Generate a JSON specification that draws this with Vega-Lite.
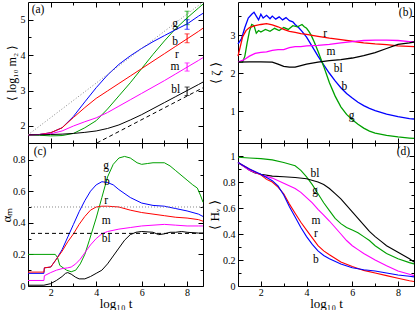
{
"$schema": "https://vega.github.io/schema/vega-lite/v6.json",
"padding": {"left": 0, "top": 0, "right": 0, "bottom": 0},
"background": "white",
"config": {
 "font": "Liberation Serif",
 "view": {"stroke": null},
 "axis": {"labelFont": "Liberation Serif", "titleFont": "Liberation Serif", "labelFontSize": 10, "titleFontSize": 13, "titleFontWeight": "normal", "labelFlush": false, "labelOverlap": false, "domainColor": "black", "tickColor": "black", "labelColor": "black", "titleColor": "black", "grid": false, "tickWidth": 1, "domainWidth": 1},
 "text": {"font": "Liberation Serif", "fontSize": 11.5, "color": "black"}
},
"datasets": {
 "a": [
  {"s":"g","x":1,"y":1.75},{"s":"g","x":1.5,"y":1.74},{"s":"g","x":2,"y":1.72},{"s":"g","x":2.5,"y":1.73},{"s":"g","x":3,"y":1.79},{"s":"g","x":3.5,"y":1.95},{"s":"g","x":4,"y":2.15},{"s":"g","x":4.5,"y":2.48},{"s":"g","x":5,"y":2.85},{"s":"g","x":5.5,"y":3.22},{"s":"g","x":6,"y":3.62},{"s":"g","x":6.5,"y":4.02},{"s":"g","x":7,"y":4.4},{"s":"g","x":7.5,"y":4.75},{"s":"g","x":8,"y":5.05},{"s":"g","x":8.5,"y":5.33},{"s":"g","x":8.7,"y":5.44},
  {"s":"b","x":1,"y":1.75},{"s":"b","x":1.5,"y":1.76},{"s":"b","x":2,"y":1.81},{"s":"b","x":2.5,"y":1.95},{"s":"b","x":3,"y":2.27},{"s":"b","x":3.5,"y":2.68},{"s":"b","x":4,"y":3.08},{"s":"b","x":4.5,"y":3.44},{"s":"b","x":5,"y":3.74},{"s":"b","x":5.5,"y":3.98},{"s":"b","x":6,"y":4.19},{"s":"b","x":6.5,"y":4.38},{"s":"b","x":7,"y":4.55},{"s":"b","x":7.5,"y":4.72},{"s":"b","x":8,"y":4.88},{"s":"b","x":8.5,"y":5.1},{"s":"b","x":8.7,"y":5.18},
  {"s":"r","x":1,"y":1.75},{"s":"r","x":1.5,"y":1.76},{"s":"r","x":2,"y":1.81},{"s":"r","x":2.5,"y":1.95},{"s":"r","x":3,"y":2.24},{"s":"r","x":3.5,"y":2.52},{"s":"r","x":4,"y":2.78},{"s":"r","x":4.5,"y":2.99},{"s":"r","x":5,"y":3.2},{"s":"r","x":5.5,"y":3.41},{"s":"r","x":6,"y":3.62},{"s":"r","x":6.5,"y":3.83},{"s":"r","x":7,"y":4.04},{"s":"r","x":7.5,"y":4.25},{"s":"r","x":8,"y":4.46},{"s":"r","x":8.5,"y":4.67},{"s":"r","x":8.7,"y":4.76},
  {"s":"m","x":1,"y":1.75},{"s":"m","x":1.5,"y":1.76},{"s":"m","x":2,"y":1.78},{"s":"m","x":2.5,"y":1.86},{"s":"m","x":3,"y":2.0},{"s":"m","x":3.5,"y":2.12},{"s":"m","x":4,"y":2.23},{"s":"m","x":4.5,"y":2.38},{"s":"m","x":5,"y":2.56},{"s":"m","x":5.5,"y":2.74},{"s":"m","x":6,"y":2.92},{"s":"m","x":6.5,"y":3.1},{"s":"m","x":7,"y":3.28},{"s":"m","x":7.5,"y":3.47},{"s":"m","x":8,"y":3.66},{"s":"m","x":8.5,"y":3.85},{"s":"m","x":8.7,"y":3.93},
  {"s":"bl","x":1,"y":1.75},{"s":"bl","x":1.5,"y":1.75},{"s":"bl","x":2,"y":1.76},{"s":"bl","x":2.5,"y":1.77},{"s":"bl","x":3,"y":1.79},{"s":"bl","x":3.5,"y":1.82},{"s":"bl","x":4,"y":1.86},{"s":"bl","x":4.5,"y":1.93},{"s":"bl","x":5,"y":2.03},{"s":"bl","x":5.5,"y":2.17},{"s":"bl","x":6,"y":2.32},{"s":"bl","x":6.5,"y":2.49},{"s":"bl","x":7,"y":2.66},{"s":"bl","x":7.5,"y":2.83},{"s":"bl","x":8,"y":3.0},{"s":"bl","x":8.5,"y":3.17},{"s":"bl","x":8.7,"y":3.24}
 ],
 "ra": [
  {"k":"dot","x":1,"y":1.75},{"k":"dot","x":8.7,"y":5.5},
  {"k":"dash","x":4.03,"y":1.52},{"k":"dash","x":8.7,"y":3.08}
 ],
 "ea": [
  {"s":"g","x":8,"lo":4.86,"hi":5.24},{"s":"b","x":8,"lo":4.73,"hi":5.0},{"s":"r","x":8,"lo":4.35,"hi":4.6},{"s":"m","x":8,"lo":3.55,"hi":3.78},{"s":"bl","x":8,"lo":2.86,"hi":3.1}
 ],
 "la": [
  {"t":"g","x":7.47,"y":4.88},{"t":"b","x":7.47,"y":4.36},{"t":"r","x":7.55,"y":3.99},{"t":"m","x":7.47,"y":3.66},{"t":"bl","x":7.5,"y":3.03},{"t":"(a)","x":1.44,"y":5.28}
 ],
 "b": [
  {"s":"b","x":1,"y":2.77},{"s":"b","x":1.15,"y":2.9},{"s":"b","x":1.3,"y":3.2},{"s":"b","x":1.45,"y":3.45},{"s":"b","x":1.6,"y":3.55},{"s":"b","x":1.7,"y":3.6},{"s":"b","x":1.8,"y":3.5},{"s":"b","x":1.9,"y":3.4},{"s":"b","x":2.0,"y":3.55},{"s":"b","x":2.1,"y":3.45},{"s":"b","x":2.25,"y":3.52},{"s":"b","x":2.4,"y":3.43},{"s":"b","x":2.5,"y":3.5},{"s":"b","x":2.65,"y":3.42},{"s":"b","x":2.8,"y":3.48},{"s":"b","x":2.95,"y":3.4},{"s":"b","x":3.1,"y":3.46},{"s":"b","x":3.25,"y":3.38},{"s":"b","x":3.4,"y":3.35},{"s":"b","x":3.5,"y":3.28},{"s":"b","x":3.65,"y":3.2},{"s":"b","x":3.8,"y":3.1},{"s":"b","x":4,"y":2.95},{"s":"b","x":4.25,"y":2.7},{"s":"b","x":4.5,"y":2.45},{"s":"b","x":4.75,"y":2.22},{"s":"b","x":5,"y":2.0},{"s":"b","x":5.25,"y":1.8},{"s":"b","x":5.5,"y":1.62},{"s":"b","x":5.75,"y":1.47},{"s":"b","x":6,"y":1.35},{"s":"b","x":6.25,"y":1.24},{"s":"b","x":6.5,"y":1.15},{"s":"b","x":6.75,"y":1.08},{"s":"b","x":7,"y":1.02},{"s":"b","x":7.5,"y":0.93},{"s":"b","x":8,"y":0.86},{"s":"b","x":8.5,"y":0.81},{"s":"b","x":8.7,"y":0.8},
  {"s":"g","x":1,"y":2.29},{"s":"g","x":1.2,"y":2.29},{"s":"g","x":1.3,"y":2.45},{"s":"g","x":1.4,"y":2.8},{"s":"g","x":1.5,"y":3.1},{"s":"g","x":1.6,"y":3.28},{"s":"g","x":1.7,"y":3.25},{"s":"g","x":1.8,"y":3.05},{"s":"g","x":1.9,"y":3.12},{"s":"g","x":2.0,"y":3.08},{"s":"g","x":2.2,"y":3.15},{"s":"g","x":2.4,"y":3.1},{"s":"g","x":2.6,"y":3.18},{"s":"g","x":2.8,"y":3.12},{"s":"g","x":3.0,"y":3.2},{"s":"g","x":3.2,"y":3.15},{"s":"g","x":3.4,"y":3.25},{"s":"g","x":3.6,"y":3.22},{"s":"g","x":3.8,"y":3.28},{"s":"g","x":3.9,"y":3.22},{"s":"g","x":4.0,"y":3.18},{"s":"g","x":4.1,"y":3.1},{"s":"g","x":4.2,"y":3.0},{"s":"g","x":4.35,"y":2.8},{"s":"g","x":4.5,"y":2.58},{"s":"g","x":4.75,"y":2.18},{"s":"g","x":5,"y":1.75},{"s":"g","x":5.25,"y":1.4},{"s":"g","x":5.5,"y":1.12},{"s":"g","x":5.75,"y":0.92},{"s":"g","x":6,"y":0.78},{"s":"g","x":6.25,"y":0.66},{"s":"g","x":6.5,"y":0.56},{"s":"g","x":6.75,"y":0.48},{"s":"g","x":7,"y":0.43},{"s":"g","x":7.5,"y":0.37},{"s":"g","x":8,"y":0.33},{"s":"g","x":8.5,"y":0.3},{"s":"g","x":8.7,"y":0.29},
  {"s":"r","x":1,"y":2.45},{"s":"r","x":1.1,"y":2.7},{"s":"r","x":1.2,"y":2.95},{"s":"r","x":1.35,"y":3.12},{"s":"r","x":1.5,"y":3.2},{"s":"r","x":1.75,"y":3.25},{"s":"r","x":2,"y":3.28},{"s":"r","x":2.25,"y":3.3},{"s":"r","x":2.5,"y":3.27},{"s":"r","x":2.75,"y":3.22},{"s":"r","x":3,"y":3.15},{"s":"r","x":3.25,"y":3.1},{"s":"r","x":3.5,"y":3.07},{"s":"r","x":3.75,"y":3.04},{"s":"r","x":4,"y":3.02},{"s":"r","x":4.5,"y":2.97},{"s":"r","x":5,"y":2.92},{"s":"r","x":5.5,"y":2.88},{"s":"r","x":6,"y":2.84},{"s":"r","x":6.5,"y":2.8},{"s":"r","x":7,"y":2.77},{"s":"r","x":7.5,"y":2.75},{"s":"r","x":8,"y":2.72},{"s":"r","x":8.7,"y":2.7},
  {"s":"m","x":1,"y":2.29},{"s":"m","x":1.25,"y":2.35},{"s":"m","x":1.5,"y":2.45},{"s":"m","x":1.75,"y":2.52},{"s":"m","x":2,"y":2.55},{"s":"m","x":2.25,"y":2.56},{"s":"m","x":2.5,"y":2.6},{"s":"m","x":2.75,"y":2.62},{"s":"m","x":3,"y":2.62},{"s":"m","x":3.25,"y":2.67},{"s":"m","x":3.5,"y":2.7},{"s":"m","x":3.75,"y":2.7},{"s":"m","x":4,"y":2.72},{"s":"m","x":4.5,"y":2.73},{"s":"m","x":5,"y":2.76},{"s":"m","x":5.5,"y":2.8},{"s":"m","x":6,"y":2.83},{"s":"m","x":6.5,"y":2.86},{"s":"m","x":7,"y":2.87},{"s":"m","x":7.5,"y":2.87},{"s":"m","x":8,"y":2.86},{"s":"m","x":8.5,"y":2.83},{"s":"m","x":8.7,"y":2.82},
  {"s":"bl","x":1,"y":2.29},{"s":"bl","x":1.5,"y":2.3},{"s":"bl","x":2,"y":2.3},{"s":"bl","x":2.5,"y":2.29},{"s":"bl","x":2.75,"y":2.24},{"s":"bl","x":3,"y":2.18},{"s":"bl","x":3.25,"y":2.16},{"s":"bl","x":3.5,"y":2.16},{"s":"bl","x":3.75,"y":2.2},{"s":"bl","x":4,"y":2.24},{"s":"bl","x":4.5,"y":2.29},{"s":"bl","x":5,"y":2.33},{"s":"bl","x":5.5,"y":2.36},{"s":"bl","x":6,"y":2.4},{"s":"bl","x":6.5,"y":2.46},{"s":"bl","x":7,"y":2.54},{"s":"bl","x":7.5,"y":2.65},{"s":"bl","x":8,"y":2.76},{"s":"bl","x":8.5,"y":2.8},{"s":"bl","x":8.7,"y":2.82}
 ],
 "lb": [
  {"t":"r","x":4.81,"y":3.02},{"t":"m","x":5.07,"y":2.57},{"t":"bl","x":5.39,"y":2.11},{"t":"b","x":5.65,"y":1.65},{"t":"g","x":5.97,"y":0.87},{"t":"(b)","x":8.33,"y":3.59}
 ],
 "c": [
  {"s":"g","x":1,"y":0.2},{"s":"g","x":2.2,"y":0.2},{"s":"g","x":2.3,"y":0.18},{"s":"g","x":2.4,"y":0.13},{"s":"g","x":2.55,"y":0.115},{"s":"g","x":2.7,"y":0.1},{"s":"g","x":2.9,"y":0.09},{"s":"g","x":3.1,"y":0.1},{"s":"g","x":3.3,"y":0.14},{"s":"g","x":3.5,"y":0.2},{"s":"g","x":3.7,"y":0.29},{"s":"g","x":4,"y":0.43},{"s":"g","x":4.25,"y":0.56},{"s":"g","x":4.5,"y":0.69},{"s":"g","x":4.75,"y":0.77},{"s":"g","x":5,"y":0.81},{"s":"g","x":5.25,"y":0.82},{"s":"g","x":5.5,"y":0.81},{"s":"g","x":5.8,"y":0.78},{"s":"g","x":6,"y":0.77},{"s":"g","x":6.25,"y":0.775},{"s":"g","x":6.5,"y":0.78},{"s":"g","x":7,"y":0.78},{"s":"g","x":7.25,"y":0.76},{"s":"g","x":7.5,"y":0.73},{"s":"g","x":8,"y":0.67},{"s":"g","x":8.25,"y":0.64},{"s":"g","x":8.45,"y":0.62},{"s":"g","x":8.6,"y":0.57},{"s":"g","x":8.7,"y":0.53},
  {"s":"b","x":1,"y":0.08},{"s":"b","x":1.7,"y":0.08},{"s":"b","x":1.72,"y":0.115},{"s":"b","x":2,"y":0.12},{"s":"b","x":2.25,"y":0.17},{"s":"b","x":2.5,"y":0.23},{"s":"b","x":2.75,"y":0.31},{"s":"b","x":3,"y":0.39},{"s":"b","x":3.25,"y":0.47},{"s":"b","x":3.5,"y":0.54},{"s":"b","x":3.75,"y":0.6},{"s":"b","x":4,"y":0.64},{"s":"b","x":4.25,"y":0.66},{"s":"b","x":4.5,"y":0.655},{"s":"b","x":4.75,"y":0.64},{"s":"b","x":5,"y":0.61},{"s":"b","x":5.5,"y":0.56},{"s":"b","x":6,"y":0.525},{"s":"b","x":6.5,"y":0.51},{"s":"b","x":7,"y":0.505},{"s":"b","x":7.5,"y":0.49},{"s":"b","x":8,"y":0.475},{"s":"b","x":8.5,"y":0.455},{"s":"b","x":8.7,"y":0.44},
  {"s":"r","x":1,"y":0.088},{"s":"r","x":1.7,"y":0.088},{"s":"r","x":1.72,"y":0.115},{"s":"r","x":2,"y":0.12},{"s":"r","x":2.25,"y":0.17},{"s":"r","x":2.5,"y":0.22},{"s":"r","x":2.75,"y":0.28},{"s":"r","x":3,"y":0.33},{"s":"r","x":3.25,"y":0.39},{"s":"r","x":3.5,"y":0.44},{"s":"r","x":3.75,"y":0.48},{"s":"r","x":4,"y":0.5},{"s":"r","x":4.25,"y":0.505},{"s":"r","x":4.5,"y":0.505},{"s":"r","x":5,"y":0.5},{"s":"r","x":5.5,"y":0.48},{"s":"r","x":6,"y":0.465},{"s":"r","x":6.5,"y":0.455},{"s":"r","x":7,"y":0.445},{"s":"r","x":7.5,"y":0.435},{"s":"r","x":8,"y":0.43},{"s":"r","x":8.5,"y":0.42},{"s":"r","x":8.7,"y":0.41},
  {"s":"m","x":1,"y":0.035},{"s":"m","x":1.7,"y":0.035},{"s":"m","x":1.72,"y":0.065},{"s":"m","x":2,"y":0.085},{"s":"m","x":2.25,"y":0.1},{"s":"m","x":2.5,"y":0.11},{"s":"m","x":2.75,"y":0.115},{"s":"m","x":2.9,"y":0.12},{"s":"m","x":3.1,"y":0.14},{"s":"m","x":3.3,"y":0.17},{"s":"m","x":3.5,"y":0.21},{"s":"m","x":3.75,"y":0.26},{"s":"m","x":4,"y":0.3},{"s":"m","x":4.25,"y":0.33},{"s":"m","x":4.5,"y":0.345},{"s":"m","x":5,"y":0.36},{"s":"m","x":5.5,"y":0.37},{"s":"m","x":6,"y":0.38},{"s":"m","x":6.5,"y":0.385},{"s":"m","x":7,"y":0.39},{"s":"m","x":7.5,"y":0.385},{"s":"m","x":8,"y":0.38},{"s":"m","x":8.5,"y":0.38},{"s":"m","x":8.7,"y":0.38},
  {"s":"bl","x":1,"y":0.005},{"s":"bl","x":1.7,"y":0.005},{"s":"bl","x":2,"y":0.015},{"s":"bl","x":2.25,"y":0.035},{"s":"bl","x":2.5,"y":0.06},{"s":"bl","x":2.65,"y":0.08},{"s":"bl","x":2.75,"y":0.085},{"s":"bl","x":2.9,"y":0.075},{"s":"bl","x":3.1,"y":0.055},{"s":"bl","x":3.25,"y":0.045},{"s":"bl","x":3.5,"y":0.045},{"s":"bl","x":3.75,"y":0.06},{"s":"bl","x":4,"y":0.08},{"s":"bl","x":4.25,"y":0.1},{"s":"bl","x":4.5,"y":0.14},{"s":"bl","x":4.75,"y":0.19},{"s":"bl","x":5,"y":0.24},{"s":"bl","x":5.25,"y":0.29},{"s":"bl","x":5.5,"y":0.325},{"s":"bl","x":5.75,"y":0.34},{"s":"bl","x":6,"y":0.345},{"s":"bl","x":6.5,"y":0.34},{"s":"bl","x":6.75,"y":0.325},{"s":"bl","x":7,"y":0.33},{"s":"bl","x":7.25,"y":0.34},{"s":"bl","x":7.5,"y":0.34},{"s":"bl","x":7.75,"y":0.345},{"s":"bl","x":8,"y":0.34},{"s":"bl","x":8.5,"y":0.335},{"s":"bl","x":8.7,"y":0.335}
 ],
 "rc": [{"k":"dot","y":0.5},{"k":"dash","y":0.333}],
 "lc": [
  {"t":"g","x":4.44,"y":0.757},{"t":"b","x":4.47,"y":0.66},{"t":"r","x":4.44,"y":0.54},{"t":"m","x":4.44,"y":0.41},{"t":"bl","x":4.44,"y":0.3},{"t":"(c)","x":1.53,"y":0.848}
 ],
 "d": [
  {"s":"g","x":1,"y":0.99},{"s":"g","x":1.5,"y":0.985},{"s":"g","x":2,"y":0.98},{"s":"g","x":2.5,"y":0.97},{"s":"g","x":3,"y":0.95},{"s":"g","x":3.5,"y":0.925},{"s":"g","x":3.75,"y":0.89},{"s":"g","x":4,"y":0.84},{"s":"g","x":4.25,"y":0.78},{"s":"g","x":4.5,"y":0.71},{"s":"g","x":4.75,"y":0.64},{"s":"g","x":5,"y":0.58},{"s":"g","x":5.25,"y":0.52},{"s":"g","x":5.5,"y":0.48},{"s":"g","x":5.75,"y":0.45},{"s":"g","x":6,"y":0.43},{"s":"g","x":6.25,"y":0.41},{"s":"g","x":6.5,"y":0.38},{"s":"g","x":6.75,"y":0.35},{"s":"g","x":7,"y":0.31},{"s":"g","x":7.5,"y":0.25},{"s":"g","x":8,"y":0.21},{"s":"g","x":8.5,"y":0.18},{"s":"g","x":8.7,"y":0.17},
  {"s":"bl","x":1,"y":0.95},{"s":"bl","x":1.25,"y":0.92},{"s":"bl","x":1.5,"y":0.89},{"s":"bl","x":1.75,"y":0.87},{"s":"bl","x":2,"y":0.86},{"s":"bl","x":2.5,"y":0.845},{"s":"bl","x":3,"y":0.84},{"s":"bl","x":3.5,"y":0.835},{"s":"bl","x":4,"y":0.825},{"s":"bl","x":4.5,"y":0.8},{"s":"bl","x":4.75,"y":0.78},{"s":"bl","x":5,"y":0.75},{"s":"bl","x":5.25,"y":0.71},{"s":"bl","x":5.5,"y":0.67},{"s":"bl","x":5.75,"y":0.62},{"s":"bl","x":6,"y":0.57},{"s":"bl","x":6.25,"y":0.52},{"s":"bl","x":6.5,"y":0.47},{"s":"bl","x":6.75,"y":0.42},{"s":"bl","x":7,"y":0.38},{"s":"bl","x":7.25,"y":0.345},{"s":"bl","x":7.5,"y":0.31},{"s":"bl","x":8,"y":0.26},{"s":"bl","x":8.5,"y":0.21},{"s":"bl","x":8.7,"y":0.185},
  {"s":"m","x":1,"y":0.95},{"s":"m","x":1.5,"y":0.89},{"s":"m","x":2,"y":0.855},{"s":"m","x":2.5,"y":0.83},{"s":"m","x":3,"y":0.79},{"s":"m","x":3.5,"y":0.75},{"s":"m","x":3.75,"y":0.72},{"s":"m","x":4,"y":0.68},{"s":"m","x":4.25,"y":0.64},{"s":"m","x":4.5,"y":0.59},{"s":"m","x":4.75,"y":0.545},{"s":"m","x":5,"y":0.5},{"s":"m","x":5.25,"y":0.45},{"s":"m","x":5.5,"y":0.4},{"s":"m","x":5.75,"y":0.35},{"s":"m","x":6,"y":0.31},{"s":"m","x":6.25,"y":0.28},{"s":"m","x":6.5,"y":0.25},{"s":"m","x":7,"y":0.2},{"s":"m","x":7.5,"y":0.155},{"s":"m","x":8,"y":0.115},{"s":"m","x":8.5,"y":0.09},{"s":"m","x":8.7,"y":0.08},
  {"s":"r","x":1,"y":0.95},{"s":"r","x":1.5,"y":0.9},{"s":"r","x":2,"y":0.855},{"s":"r","x":2.25,"y":0.82},{"s":"r","x":2.5,"y":0.8},{"s":"r","x":2.75,"y":0.76},{"s":"r","x":3,"y":0.71},{"s":"r","x":3.25,"y":0.63},{"s":"r","x":3.5,"y":0.56},{"s":"r","x":3.75,"y":0.49},{"s":"r","x":4,"y":0.43},{"s":"r","x":4.25,"y":0.37},{"s":"r","x":4.5,"y":0.31},{"s":"r","x":4.75,"y":0.27},{"s":"r","x":5,"y":0.24},{"s":"r","x":5.5,"y":0.185},{"s":"r","x":6,"y":0.15},{"s":"r","x":6.5,"y":0.12},{"s":"r","x":7,"y":0.1},{"s":"r","x":7.5,"y":0.08},{"s":"r","x":8,"y":0.06},{"s":"r","x":8.5,"y":0.04},{"s":"r","x":8.7,"y":0.035},
  {"s":"b","x":1,"y":0.95},{"s":"b","x":1.5,"y":0.9},{"s":"b","x":2,"y":0.86},{"s":"b","x":2.5,"y":0.81},{"s":"b","x":2.75,"y":0.77},{"s":"b","x":3,"y":0.7},{"s":"b","x":3.25,"y":0.61},{"s":"b","x":3.5,"y":0.53},{"s":"b","x":3.75,"y":0.45},{"s":"b","x":4,"y":0.38},{"s":"b","x":4.25,"y":0.32},{"s":"b","x":4.5,"y":0.27},{"s":"b","x":4.75,"y":0.235},{"s":"b","x":5,"y":0.21},{"s":"b","x":5.5,"y":0.17},{"s":"b","x":6,"y":0.14},{"s":"b","x":6.5,"y":0.125},{"s":"b","x":7,"y":0.115},{"s":"b","x":7.5,"y":0.1},{"s":"b","x":8,"y":0.085},{"s":"b","x":8.5,"y":0.075},{"s":"b","x":8.7,"y":0.07}
 ],
 "ld": [
  {"t":"bl","x":4.37,"y":0.86},{"t":"g","x":4.37,"y":0.73},{"t":"m","x":4.41,"y":0.5},{"t":"r","x":4.41,"y":0.4},{"t":"b","x":4.41,"y":0.2},{"t":"(d)","x":8.24,"y":1.03}
 ]
},
"bounds": "flush",
"columns": 2,
"spacing": {"row": 0, "column": 35},
"concat": [
 {
  "width": 175, "height": 141,
  "resolve": {"axis": {"x": "independent", "y": "independent"}},
  "layer": [
   {"data": {"name": "a"}, "mark": {"type": "line", "strokeWidth": 1},
    "encoding": {
     "x": {"field": "x", "type": "quantitative", "scale": {"domain": [1, 8.7], "nice": false, "zero": false},
      "axis": {"orient": "bottom", "values": [2,3,4,5,6,7,8], "labels": false, "ticks": false, "tickSize": 0, "title": null}},
     "y": {"field": "y", "type": "quantitative", "scale": {"domain": [1.52, 5.5], "nice": false, "zero": false},
      "axis": {"orient": "left", "values": [2,3,4,5], "format": "d", "ticks": false, "tickSize": 0, "labelPadding": 3, "title": "⟨ log₁₀ m₂ ⟩", "titleFontSize": 12, "titlePadding": 2}},
     "color": {"field": "s", "type": "nominal", "scale": {"domain": ["g","b","r","m","bl"], "range": ["#00a000","#0000ff","#ff0000","#ff00ff","#000000"]}, "legend": null}
    }},
   {"data": {"name": "a"}, "mark": {"type": "point", "opacity": 0},
    "encoding": {
     "x": {"field": "x", "type": "quantitative", "axis": {"orient": "top", "values": [2,3,4,5,6,7,8], "labels": false, "title": null, "tickSize": {"condition": {"test": "datum.value % 2 === 0", "value": -5}, "value": -3}}},
     "y": {"field": "y", "type": "quantitative", "axis": {"orient": "right", "values": [2,2.5,3,3.5,4,4.5,5], "labels": false, "title": null, "tickSize": {"condition": {"test": "datum.value % 1 === 0", "value": -5}, "value": -3}}}
    }},
   {"data": {"name": "a"}, "mark": {"type": "point", "opacity": 0},
    "encoding": {
     "x": {"field": "x", "type": "quantitative", "axis": {"orient": "bottom", "domain": false, "values": [2,3,4,5,6,7,8], "labels": false, "title": null, "tickSize": {"condition": {"test": "datum.value % 2 === 0", "value": -5}, "value": -3}}},
     "y": {"field": "y", "type": "quantitative", "axis": {"orient": "left", "domain": false, "values": [2,2.5,3,3.5,4,4.5,5], "labels": false, "title": null, "tickSize": {"condition": {"test": "datum.value % 1 === 0", "value": -5}, "value": -3}}}
    }},
   {"data": {"name": "ra"}, "transform": [{"filter": "datum.k === 'dot'"}], "mark": {"type": "line", "color": "#888888", "strokeWidth": 1, "strokeDash": [1, 2]},
    "encoding": {"x": {"field": "x", "type": "quantitative", "axis": null}, "y": {"field": "y", "type": "quantitative", "axis": null}}},
   {"data": {"name": "ra"}, "transform": [{"filter": "datum.k === 'dash'"}], "mark": {"type": "line", "color": "black", "strokeWidth": 1, "strokeDash": [4, 3]},
    "encoding": {"x": {"field": "x", "type": "quantitative", "axis": null}, "y": {"field": "y", "type": "quantitative", "axis": null}}},
   {"data": {"name": "ea"}, "mark": {"type": "errorbar", "ticks": {"size": 5}},
    "encoding": {"x": {"field": "x", "type": "quantitative", "axis": null}, "y": {"field": "lo", "type": "quantitative", "axis": null}, "y2": {"field": "hi"}, "color": {"field": "s", "type": "nominal", "legend": null}}},
   {"data": {"name": "la"}, "mark": {"type": "text", "align": "center", "baseline": "middle"},
    "encoding": {"x": {"field": "x", "type": "quantitative", "axis": null}, "y": {"field": "y", "type": "quantitative", "axis": null}, "text": {"field": "t"}}}
  ]
 },
 {
  "width": 176, "height": 141,
  "resolve": {"axis": {"x": "independent", "y": "independent"}},
  "layer": [
   {"data": {"name": "b"}, "mark": {"type": "line", "strokeWidth": 1.3},
    "encoding": {
     "x": {"field": "x", "type": "quantitative", "scale": {"domain": [1, 8.7], "nice": false, "zero": false},
      "axis": {"orient": "bottom", "values": [2,3,4,5,6,7,8], "labels": false, "ticks": false, "tickSize": 0, "title": null}},
     "y": {"field": "y", "type": "quantitative", "scale": {"domain": [0.17, 3.87], "nice": false, "zero": false},
      "axis": {"orient": "left", "values": [1,2,3], "format": "d", "ticks": false, "tickSize": 0, "labelPadding": 3, "title": "⟨ ζ ⟩", "titlePadding": 8}},
     "color": {"field": "s", "type": "nominal", "scale": {"domain": ["g","b","r","m","bl"], "range": ["#00a000","#0000ff","#ff0000","#ff00ff","#000000"]}, "legend": null}
    }},
   {"data": {"name": "b"}, "mark": {"type": "point", "opacity": 0},
    "encoding": {
     "x": {"field": "x", "type": "quantitative", "axis": {"orient": "top", "values": [2,3,4,5,6,7,8], "labels": false, "title": null, "tickSize": {"condition": {"test": "datum.value % 2 === 0", "value": -5}, "value": -3}}},
     "y": {"field": "y", "type": "quantitative", "axis": {"orient": "right", "values": [0.5,1,1.5,2,2.5,3,3.5], "labels": false, "title": null, "tickSize": {"condition": {"test": "datum.value % 1 === 0", "value": -5}, "value": -3}}}
    }},
   {"data": {"name": "b"}, "mark": {"type": "point", "opacity": 0},
    "encoding": {
     "x": {"field": "x", "type": "quantitative", "axis": {"orient": "bottom", "domain": false, "values": [2,3,4,5,6,7,8], "labels": false, "title": null, "tickSize": {"condition": {"test": "datum.value % 2 === 0", "value": -5}, "value": -3}}},
     "y": {"field": "y", "type": "quantitative", "axis": {"orient": "left", "domain": false, "values": [0.5,1,1.5,2,2.5,3,3.5], "labels": false, "title": null, "tickSize": {"condition": {"test": "datum.value % 1 === 0", "value": -5}, "value": -3}}}
    }},
   {"data": {"name": "lb"}, "mark": {"type": "text", "align": "center", "baseline": "middle"},
    "encoding": {"x": {"field": "x", "type": "quantitative", "axis": null}, "y": {"field": "y", "type": "quantitative", "axis": null}, "text": {"field": "t"}}}
  ]
 },
 {
  "width": 175, "height": 143,
  "resolve": {"axis": {"x": "independent", "y": "independent"}},
  "layer": [
   {"data": {"name": "c"}, "mark": {"type": "line", "strokeWidth": 1},
    "encoding": {
     "x": {"field": "x", "type": "quantitative", "scale": {"domain": [1, 8.7], "nice": false, "zero": false},
      "axis": {"orient": "bottom", "values": [2,4,6,8], "ticks": false, "tickSize": 0, "labelPadding": 1, "title": "log₁₀ t", "titlePadding": 0}},
     "y": {"field": "y", "type": "quantitative", "scale": {"domain": [0, 0.905], "nice": false, "zero": false},
      "axis": {"orient": "left", "values": [0,0.2,0.4,0.6,0.8], "labelExpr": "format(datum.value, '~g')", "ticks": false, "tickSize": 0, "labelPadding": 3, "title": "αₘ", "titlePadding": -1}},
     "color": {"field": "s", "type": "nominal", "scale": {"domain": ["g","b","r","m","bl"], "range": ["#00a000","#0000ff","#ff0000","#ff00ff","#000000"]}, "legend": null}
    }},
   {"data": {"name": "c"}, "mark": {"type": "point", "opacity": 0},
    "encoding": {
     "x": {"field": "x", "type": "quantitative", "axis": {"orient": "top", "values": [2,3,4,5,6,7,8], "labels": false, "title": null, "tickSize": {"condition": {"test": "datum.value % 2 === 0", "value": -5}, "value": -3}}},
     "y": {"field": "y", "type": "quantitative", "axis": {"orient": "right", "values": [0,0.1,0.2,0.3,0.4,0.5,0.6,0.7,0.8], "labels": false, "title": null, "tickSize": {"condition": {"test": "abs(datum.value*5 - round(datum.value*5)) < 0.000001", "value": -5}, "value": -3}}}
    }},
   {"data": {"name": "c"}, "mark": {"type": "point", "opacity": 0},
    "encoding": {
     "x": {"field": "x", "type": "quantitative", "axis": {"orient": "bottom", "domain": false, "values": [2,3,4,5,6,7,8], "labels": false, "title": null, "tickSize": {"condition": {"test": "datum.value % 2 === 0", "value": -5}, "value": -3}}},
     "y": {"field": "y", "type": "quantitative", "axis": {"orient": "left", "domain": false, "values": [0,0.1,0.2,0.3,0.4,0.5,0.6,0.7,0.8], "labels": false, "title": null, "tickSize": {"condition": {"test": "abs(datum.value*5 - round(datum.value*5)) < 0.000001", "value": -5}, "value": -3}}}
    }},
   {"data": {"name": "rc"}, "transform": [{"filter": "datum.k === 'dot'"}], "mark": {"type": "rule", "color": "#888888", "strokeWidth": 1, "strokeDash": [1, 2]},
    "encoding": {"y": {"field": "y", "type": "quantitative", "axis": null}}},
   {"data": {"name": "rc"}, "transform": [{"filter": "datum.k === 'dash'"}], "mark": {"type": "rule", "color": "black", "strokeWidth": 1, "strokeDash": [4, 3]},
    "encoding": {"y": {"field": "y", "type": "quantitative", "axis": null}}},
   {"data": {"name": "lc"}, "mark": {"type": "text", "align": "center", "baseline": "middle"},
    "encoding": {"x": {"field": "x", "type": "quantitative", "axis": null}, "y": {"field": "y", "type": "quantitative", "axis": null}, "text": {"field": "t"}}}
  ]
 },
 {
  "width": 176, "height": 143,
  "resolve": {"axis": {"x": "independent", "y": "independent"}},
  "layer": [
   {"data": {"name": "d"}, "mark": {"type": "line", "strokeWidth": 1.1},
    "encoding": {
     "x": {"field": "x", "type": "quantitative", "scale": {"domain": [1, 8.7], "nice": false, "zero": false},
      "axis": {"orient": "bottom", "values": [2,4,6,8], "ticks": false, "tickSize": 0, "labelPadding": 1, "title": "log₁₀ t", "titlePadding": 0}},
     "y": {"field": "y", "type": "quantitative", "scale": {"domain": [0, 1.1], "nice": false, "zero": false},
      "axis": {"orient": "left", "values": [0,0.2,0.4,0.6,0.8,1], "labelExpr": "format(datum.value, '~g')", "ticks": false, "tickSize": 0, "labelPadding": 3, "title": "⟨ Hᵥ ⟩", "titlePadding": 1}},
     "color": {"field": "s", "type": "nominal", "scale": {"domain": ["g","b","r","m","bl"], "range": ["#00a000","#0000ff","#ff0000","#ff00ff","#000000"]}, "legend": null}
    }},
   {"data": {"name": "d"}, "mark": {"type": "point", "opacity": 0},
    "encoding": {
     "x": {"field": "x", "type": "quantitative", "axis": {"orient": "top", "values": [2,3,4,5,6,7,8], "labels": false, "title": null, "tickSize": {"condition": {"test": "datum.value % 2 === 0", "value": -5}, "value": -3}}},
     "y": {"field": "y", "type": "quantitative", "axis": {"orient": "right", "values": [0,0.1,0.2,0.3,0.4,0.5,0.6,0.7,0.8,0.9,1], "labels": false, "title": null, "tickSize": {"condition": {"test": "abs(datum.value*5 - round(datum.value*5)) < 0.000001", "value": -5}, "value": -3}}}
    }},
   {"data": {"name": "d"}, "mark": {"type": "point", "opacity": 0},
    "encoding": {
     "x": {"field": "x", "type": "quantitative", "axis": {"orient": "bottom", "domain": false, "values": [2,3,4,5,6,7,8], "labels": false, "title": null, "tickSize": {"condition": {"test": "datum.value % 2 === 0", "value": -5}, "value": -3}}},
     "y": {"field": "y", "type": "quantitative", "axis": {"orient": "left", "domain": false, "values": [0,0.1,0.2,0.3,0.4,0.5,0.6,0.7,0.8,0.9,1], "labels": false, "title": null, "tickSize": {"condition": {"test": "abs(datum.value*5 - round(datum.value*5)) < 0.000001", "value": -5}, "value": -3}}}
    }},
   {"data": {"name": "ld"}, "mark": {"type": "text", "align": "center", "baseline": "middle"},
    "encoding": {"x": {"field": "x", "type": "quantitative", "axis": null}, "y": {"field": "y", "type": "quantitative", "axis": null}, "text": {"field": "t"}}}
  ]
 }
]
}
